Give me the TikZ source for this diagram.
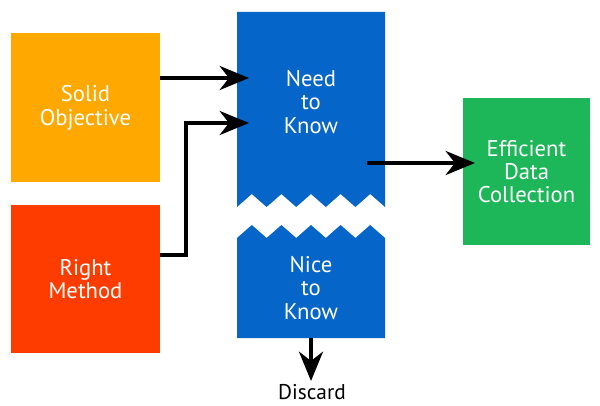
\documentclass[tikz,border=0pt]{standalone}
\usepackage{fontspec}
\setmainfont{PT Sans}
\usetikzlibrary{arrows.meta}
\definecolor{boxorange}{HTML}{FFA800}
\definecolor{boxred}{HTML}{FF3C00}
\definecolor{boxblue}{HTML}{0565C8}
\definecolor{boxgreen}{HTML}{1DB659}
\tikzset{
  box/.style={draw=none, minimum width=149\pxu, minimum height=149\pxu, inner sep=0pt,
    text=white, align=center, font=\fontsize{17}{17.5}\selectfont},
  label/.style={text=white, align=center, inner sep=0pt, font=\fontsize{17}{17.5}\selectfont},
  flow/.style={line width=3pt, -{Stealth[length=22pt, width=18pt, inset=7pt]}},
}
\newlength{\pxu}
\setlength{\pxu}{0.75pt}
\begin{document}
\begin{tikzpicture}[x=0.75pt, y=-0.75pt]
\useasboundingbox (0,0) rectangle (600,406);

% left boxes
\node[box, fill=boxorange] (solid) at (85.5,108) {Solid\\Objective};
\node[box, fill=boxred, minimum height=148\pxu] (right) at (85.5,279) {Right\\Method};

% green target box
\node[box, fill=boxgreen, minimum width=127\pxu, minimum height=147\pxu] (eff) at (526.5,171.5) {Efficient\\Data\\Collection};

% torn blue column: upper part
\fill[boxblue] (237,12) -- (385,12) -- (385,207)
  \foreach \k in {4,3,2,1,0} {
    -- ({237+29.6*\k+14.8},194) -- ({237+29.6*\k},207)
  } -- cycle;
% lower part
\fill[boxblue] (237,338) -- (385,338) -- (385,238)
  \foreach \k in {4,3,2,1,0} {
    -- ({237+29.6*\k+14.8},225) -- ({237+29.6*\k},238)
  } -- cycle;

\node[label] (need) at (311,102) {Need\\to\\Know};
\node[label] (nice) at (311,288) {Nice\\to\\Know};
\node[inner sep=0pt, font=\fontsize{16}{17}\selectfont] (discard) at (312,392) {Discard};

% arrow ends
\coordinate (needA) at (249,78);
\coordinate (needB) at (249,123);
\coordinate (bend1) at (185.5,255);
\coordinate (bend2) at (185.5,123);
\coordinate (needOut) at (367,163);
\coordinate (niceOut) at (311,338);

\draw[flow] (solid.east |- needA) -- (needA);
\draw[flow] (right.east |- bend1) -- (bend1) -- (bend2) -- (needB);
\draw[flow] (needOut) -- (475,163);
\draw[flow] (niceOut) -- (311,381);
\end{tikzpicture}
\end{document}
